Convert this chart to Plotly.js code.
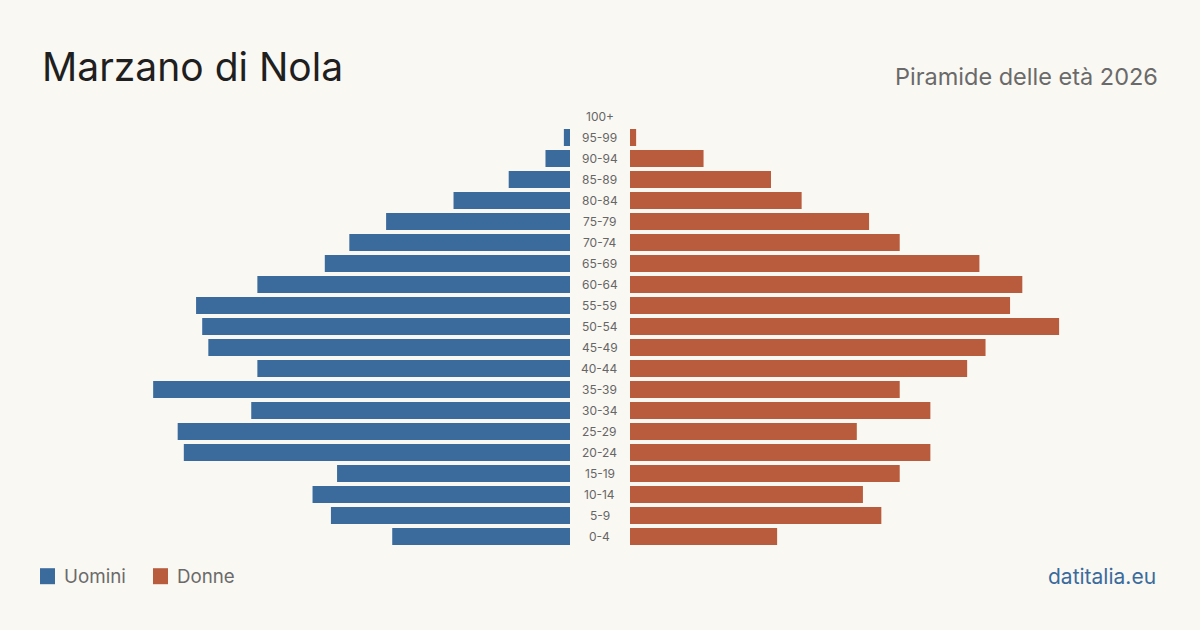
<!DOCTYPE html>
<html><head><meta charset="utf-8">
<script src="https://cdn.plot.ly/plotly-3.0.1.min.js"></script>
<style>html,body{margin:0;padding:0;background:#faf8f3;}#chart{width:1200px;height:630px;}</style>
</head><body><div id="chart"></div>
<script>
const ageGroups = ["0-4","5-9","10-14","15-19","20-24","25-29","30-34","35-39","40-44","45-49","50-54","55-59","60-64","65-69","70-74","75-79","80-84","85-89","90-94","95-99","100+"];
const men   = [29,39,42,38,63,64,52,68,51,59,60,61,51,40,36,30,19,10,4,1,0];
const women = [24,41,38,44,49,37,49,44,55,58,70,62,64,57,44,39,28,23,12,1,0];

const blue = '#3a6b9c', orange = '#b95c3d';
const H = 441, BOT = 546.8;
const py = Y => (BOT - Y) / H;
const maxX = 530 / 6.13;

const traces = [
  {type:'bar', orientation:'h', y:ageGroups, x:men, xaxis:'x', yaxis:'y', marker:{color:blue}, hoverinfo:'x+y', name:'Uomini'},
  {type:'bar', orientation:'h', y:ageGroups, x:women, xaxis:'x2', yaxis:'y', marker:{color:orange}, hoverinfo:'x+y', name:'Donne'}
];

const annotations = ageGroups.map(g => ({
  xref:'paper', yref:'y', x:599.5/1200, y:g, text:g, showarrow:false,
  xanchor:'center', yanchor:'middle', font:{family:'Inter, sans-serif', size:12, color:'#666'}
}));
annotations.push(
  {xref:'paper', yref:'paper', x:40/1200, y:py(66), xanchor:'left', yanchor:'middle', showarrow:false,
   text:'Marzano di Nola', font:{family:'Inter, sans-serif', size:39, color:'#1f1f1f'}},
  {xref:'paper', yref:'paper', x:1160/1200, y:py(76), xanchor:'right', yanchor:'middle', showarrow:false,
   text:'Piramide delle età 2026', font:{family:'Inter, sans-serif', size:23.5, color:'#6a6a6a'}},
  {xref:'paper', yref:'paper', x:62/1200, y:py(576), xanchor:'left', yanchor:'middle', showarrow:false,
   text:'Uomini', font:{family:'Inter, sans-serif', size:18.8, color:'#6a6a6a'}},
  {xref:'paper', yref:'paper', x:175/1200, y:py(576), xanchor:'left', yanchor:'middle', showarrow:false,
   text:'Donne', font:{family:'Inter, sans-serif', size:18.7, color:'#6a6a6a'}},
  {xref:'paper', yref:'paper', x:1158/1200, y:py(576), xanchor:'right', yanchor:'middle', showarrow:false,
   text:'datitalia.eu', font:{family:'Inter, sans-serif', size:21, color:blue}}
);

const shapes = [
  {type:'rect', xref:'paper', yref:'paper', x0:40/1200, x1:55/1200, y0:py(584), y1:py(568), fillcolor:blue, line:{width:0}},
  {type:'rect', xref:'paper', yref:'paper', x0:153/1200, x1:168/1200, y0:py(584), y1:py(568), fillcolor:orange, line:{width:0}}
];

const layout = {
  width:1200, height:630,
  paper_bgcolor:'#faf8f3', plot_bgcolor:'#faf8f3',
  margin:{l:0, r:0, t:BOT - H, b:630 - BOT},
  showlegend:false, bargap:0.19,
  xaxis:{domain:[40/1200, 570/1200], range:[maxX, 0], showgrid:false, zeroline:false, showticklabels:false, showline:false, fixedrange:true},
  xaxis2:{domain:[630/1200, 1160/1200], range:[0, maxX], showgrid:false, zeroline:false, showticklabels:false, showline:false, fixedrange:true},
  yaxis:{type:'category', categoryorder:'array', categoryarray:ageGroups, range:[-0.5, 20.5], showticklabels:false, showgrid:false, zeroline:false, fixedrange:true},
  annotations, shapes
};
Plotly.newPlot('chart', traces, layout, {displayModeBar:false, staticPlot:true});
</script></body></html>
